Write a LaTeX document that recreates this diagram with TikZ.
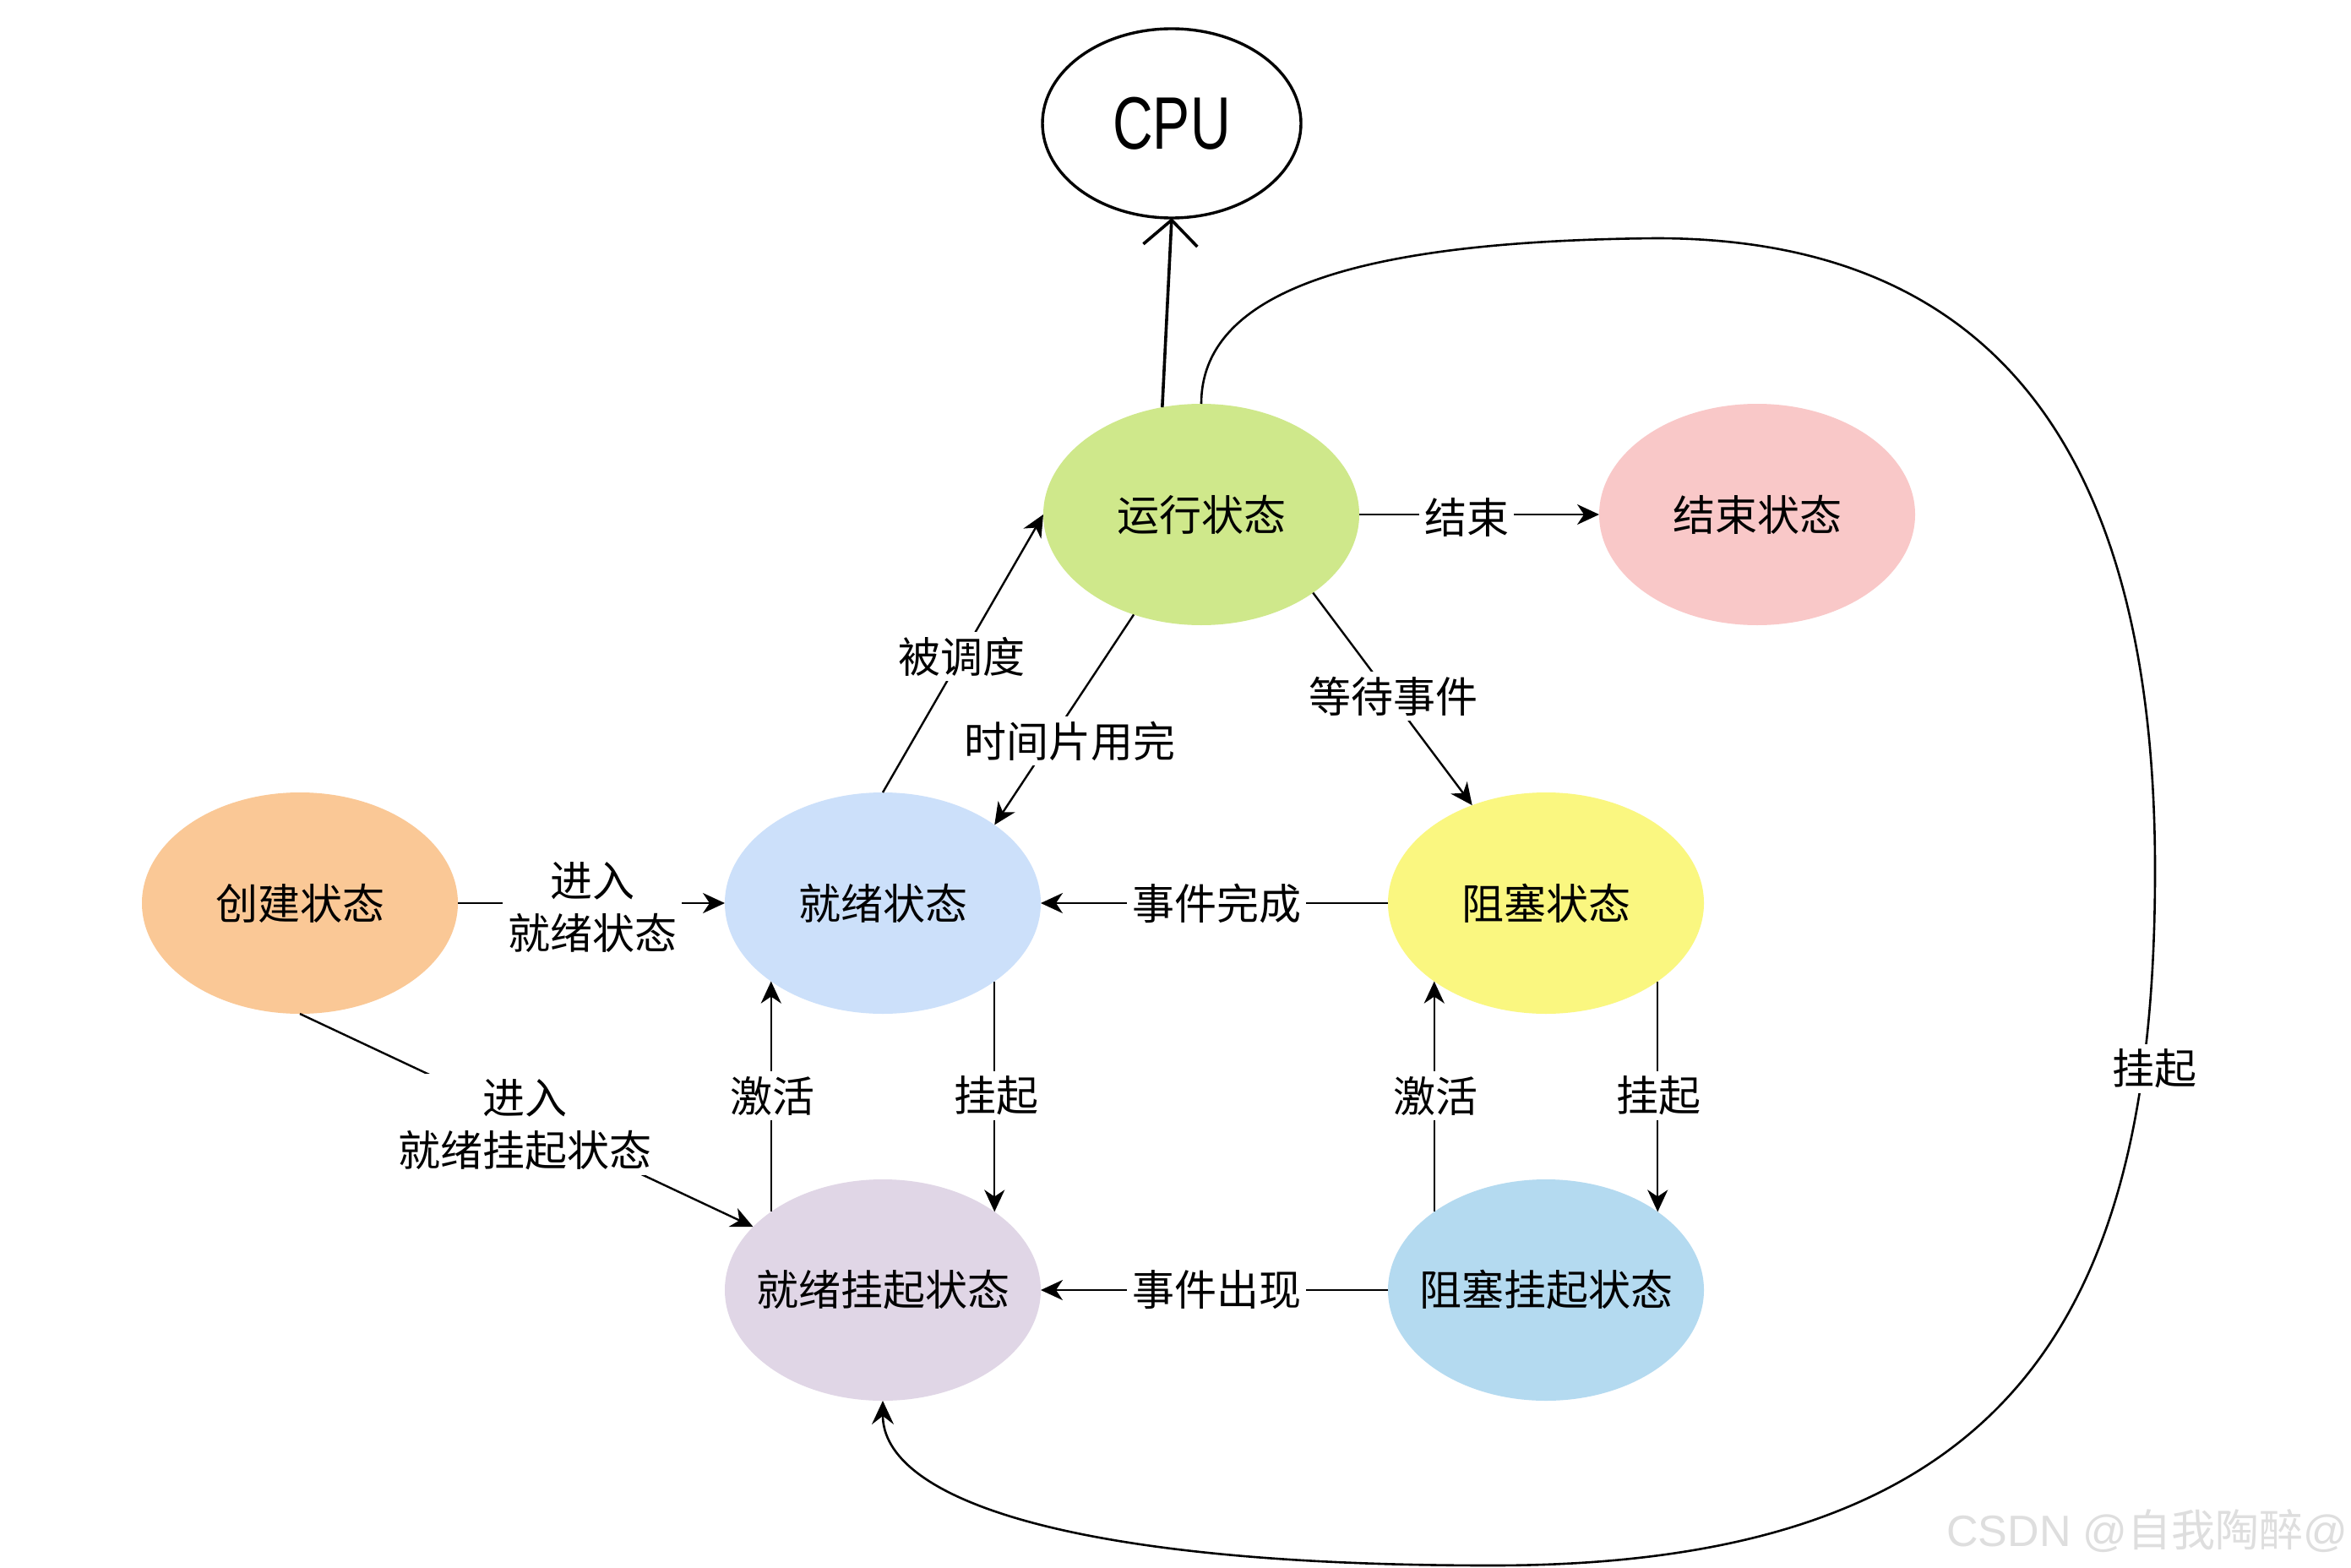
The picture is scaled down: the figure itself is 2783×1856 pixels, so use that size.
\documentclass[tikz,border=0pt]{standalone}
\usepackage{fontspec}
\setmainfont{Noto Sans CJK SC}
\newfontfamily\latinfont{Liberation Sans}
\usetikzlibrary{arrows.meta,shapes.geometric}
\definecolor{cRun}{RGB}{207,232,139}
\definecolor{cEnd}{RGB}{249,200,200}
\definecolor{cCreate}{RGB}{250,200,150}
\definecolor{cReady}{RGB}{204,224,250}
\definecolor{cBlock}{RGB}{250,247,128}
\definecolor{cRS}{RGB}{224,214,230}
\definecolor{cBS}{RGB}{180,218,240}
\definecolor{cWM}{RGB}{222,222,222}
\newcommand{\zw}[1]{\makebox[0pt]{#1}}
\begin{document}
\begin{tikzpicture}[x=0.5pt,y=-0.5pt,
  state/.style={ellipse, minimum width=187pt, minimum height=131pt, inner sep=0pt, outer sep=0pt, font=\fontsize{25}{29}\selectfont},
  lbl/.style={fill=white, inner sep=3pt, font=\fontsize{25}{31}\selectfont, align=center},
  edge/.style={line width=1.2pt, -{Stealth[length=13pt,width=12pt,inset=4pt]}},
]
\fill[white] (0,0) rectangle (2783,1856);
\useasboundingbox (0,0) rectangle (2783,1856);

% states
\node[state, fill=cRun] (run) at (1422,609) {\zw{运行状态}};
\node[state, fill=cEnd] (end) at (2080,609) {\zw{结束状态}};
\node[state, fill=cCreate] (create) at (355,1069) {\zw{创建状态}};
\node[state, fill=cReady] (ready) at (1045,1069) {\zw{就绪状态}};
\node[state, fill=cBlock] (block) at (1830,1069) {\zw{阻塞状态}};
\node[state, fill=cRS] (rs) at (1045,1527) {\zw{就绪挂起状态}};
\node[state, fill=cBS] (bs) at (1830,1527) {\zw{阻塞挂起状态}};
\node[ellipse, draw, line width=1.7pt, minimum width=153pt, minimum height=112pt, inner sep=0pt, outer sep=0pt] (cpu) at (1387,146) {\zw{\latinfont\fontsize{44}{50}\selectfont\scalebox{0.75}[1]{CPU}}};

% loop waypoints
\coordinate (lpTop) at (1960,282);
\coordinate (lpRight) at (2551,1030);
\coordinate (lpBottom) at (1766,1853);

% connectors
\draw[line width=1.8pt, -{Straight Barb[length=15pt,width=32pt]}] (run.110) -- (cpu.south);
\draw[edge] (run.east) -- (end.west);
\draw[edge] (ready.north) -- (run.west);
\draw[edge] (run.236) -- (ready.35);
\draw[edge] (run.325) -- (block.127);
\draw[edge] (block.west) -- (ready.east);
\draw[edge] (create.east) -- (ready.west);
\draw[edge] (create.south) -- (rs.154);
\draw[edge] (rs.145) -- (ready.215);
\draw[edge] (ready.325) -- (rs.35);
\draw[edge] (bs.145) -- (block.215);
\draw[edge] (block.325) -- (bs.35);
\draw[edge] (bs.west) -- (rs.east);
\draw[line width=1.3pt, -{Stealth[length=14pt,width=13pt,inset=5pt]}]
  (run.north) .. controls (1422,330) and (1650,285) .. (lpTop)
  .. controls (2380,282) and (2551,560) .. (lpRight)
  .. controls (2551,1560) and (2380,1853) .. (lpBottom)
  .. controls (1250,1853) and (1045,1770) .. (rs.south);

% labels
\node[lbl] (lEnd) at (1736,612) {结束};
\node[lbl] (lSched) at (1138,777) {被调度};
\node[lbl] (lSlice) at (1266,877) {时间片用完};
\node[lbl] (lWait) at (1649,824) {等待事件};
\node[lbl] (lDone) at (1440,1069) {事件完成};
\node[lbl] (lEnter) at (701,1074) {进入\\就绪状态};
\node[lbl] (lEnterS) at (621,1331) {进入\\就绪挂起状态};
\node[lbl] (lAct1) at (914,1297) {激活};
\node[lbl] (lSus1) at (1179,1297) {挂起};
\node[lbl] (lAct2) at (1699,1297) {激活};
\node[lbl] (lSus2) at (1963,1297) {挂起};
\node[lbl] (lOcc) at (1440,1527) {事件出现};
\node[lbl] (lLoop) at (2550,1265) {挂起};

% watermark
\node[anchor=east, text=cWM, inner sep=0pt, font=\fontsize{26}{30}\selectfont] (wm) at (2780,1812) {{\latinfont CSDN @}自我陶醉{\latinfont @}};
\end{tikzpicture}
\end{document}
